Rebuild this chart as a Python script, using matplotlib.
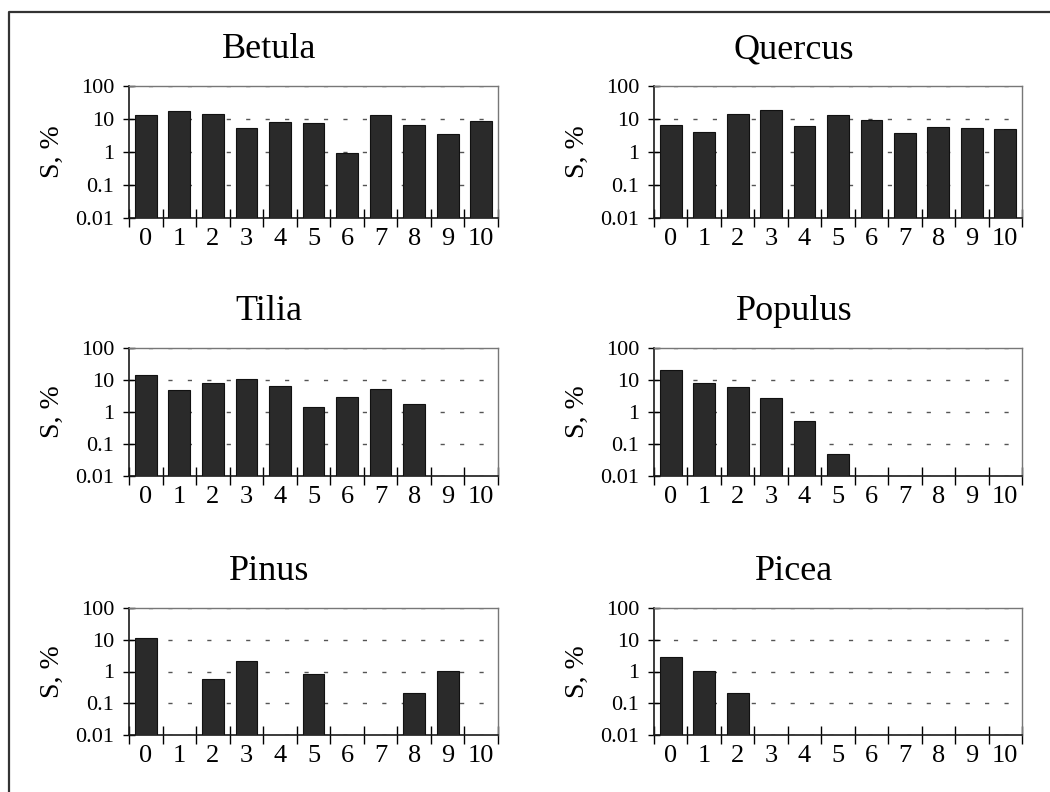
import numpy as np
import matplotlib
matplotlib.use("Agg")
import matplotlib.pyplot as plt
from matplotlib.lines import Line2D
from matplotlib.ticker import FixedLocator, NullFormatter, LogLocator

plt.rcParams['font.family'] = ['Liberation Serif', 'DejaVu Serif']

# classes 0..10 and share S, % per taxon (0 = no bar)
classes = list(range(11))
betula = [13, 17, 14, 5.2, 7.9, 7.6, 0.9, 13, 6.6, 3.4, 8.5]
quercus = [6.8, 4.0, 14, 19, 6.0, 13, 9.3, 3.7, 5.6, 5.4, 5.1]
tilia = [14, 4.9, 8.2, 11, 6.6, 1.4, 3.0, 5.3, 1.8, 0, 0]
populus = [20, 8.0, 6.0, 2.7, 0.5, 0.04, 0, 0, 0, 0, 0]
pinus = [11.5, 0, 0.59, 2.1, 0, 0.85, 0, 0, 0.2, 1.05, 0]
picea = [2.8, 1.0, 0.2, 0, 0, 0, 0, 0, 0, 0, 0]

names = ['Betula', 'Quercus', 'Tilia', 'Populus', 'Pinus', 'Picea']
series = [betula, quercus, tilia, populus, pinus, picea]

ytick_vals = [0.01, 0.1, 1, 10, 100]
ytick_labels = ['0.01', '0.1', '1', '10', '100']

W, H = 1050, 792
fig = plt.figure(figsize=(W / 100, H / 100), dpi=100)

# axes boxes in pixels: (left, right, top, bottom)
cols = [(129, 498), (654, 1022)]
rows = [(86, 218), (348, 476), (608, 735)]

px = 100 / 72.0  # pixels per point

for i, (name, vals) in enumerate(zip(names, series)):
    l, r = cols[i % 2]
    t, b = rows[i // 2]
    ax = fig.add_axes([l / W, 1 - b / H, (r - l) / W, (b - t) / H])
    ax.set_yscale('log')

    x = np.array(classes)
    v = np.array(vals, dtype=float)
    keep = v > 0
    ax.bar(x[keep], v[keep], width=0.65, bottom=0.01, color='#2a2a2a',
           edgecolor='#111111', linewidth=0.8, zorder=3)

    ax.set_ylim(0.01, 100)
    ax.set_xlim(-0.5, 10.5)

    ax.yaxis.set_major_locator(FixedLocator(ytick_vals))
    ax.set_yticklabels(ytick_labels)
    ax.yaxis.set_minor_locator(LogLocator(base=10, subs=np.arange(2, 10)))
    ax.yaxis.set_minor_formatter(NullFormatter())
    ax.tick_params(axis='y', which='major', direction='inout', length=12 / px,
                   width=1, pad=9 / px, labelsize=16, right=False)
    ax.tick_params(axis='y', which='minor', direction='inout', length=8 / px,
                   width=0.8, right=False)

    # category boundaries carry the tick marks, centres carry the labels
    ax.set_xticks(np.arange(-0.5, 11, 1.0))
    ax.set_xticklabels([])
    ax.set_xticks(classes, minor=True)
    ax.set_xticklabels([str(c) for c in classes], minor=True)
    ax.tick_params(axis='x', which='major', direction='inout', length=18 / px,
                   width=1, top=False)
    ax.tick_params(axis='x', which='minor', length=0, pad=10 / px, labelsize=19)

    ax.yaxis.grid(True, which='major', color='#555555', linewidth=1,
                  linestyle=(0, (3, 11)))
    ax.set_axisbelow(True)

    for side in ['left', 'bottom']:
        ax.spines[side].set_color('#1a1a1a')
        ax.spines[side].set_linewidth(1.2)
    for side in ['top', 'right']:
        ax.spines[side].set_color('#777777')
        ax.spines[side].set_linewidth(1.0)

    ax.set_ylabel('S, %', fontsize=20)
    ax.yaxis.set_label_coords(-0.175, 0.5)

    ax.annotate(name, xy=(0.38, 1), xycoords='axes fraction', xytext=(0, 20),
                textcoords='offset points', ha='center', va='baseline',
                fontsize=26)

# outer frame of the scanned figure (left and top edges)
fx0 = 9 / W
fy0 = 1 - 12 / H
fig.add_artist(Line2D([fx0, fx0, 1.0], [0.0, fy0, fy0], color='#333333',
                      linewidth=1.6, transform=fig.transFigure))

fig.savefig('out.png', dpi=100)
